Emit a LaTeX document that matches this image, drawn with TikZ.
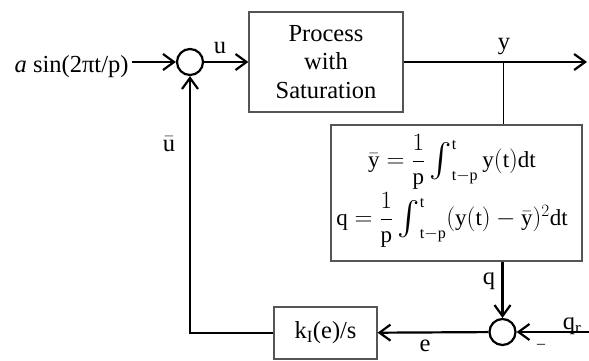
\documentclass[tikz,border=0pt]{standalone}
\usepackage{amsmath}
\usepackage{graphicx}
\usepackage{fontspec}
\setmainfont{Liberation Serif}
\usepackage{tikz}
\usetikzlibrary{
arrows.meta,
positioning,
calc
}
\definecolor{BoxGray}{HTML}{555555}
\newcommand{\bigint}{\mathop{\vcenter{\hbox{\scalebox{1.35}{$\textstyle\int$}}}}\nolimits}

\begin{document}
\begin{tikzpicture}[
    x=1pt,
    y=1pt,
    font=\fontsize{24.5}{28.3}\selectfont,
    block/.style={draw=BoxGray, line width=1.2pt, align=center, inner sep=0pt},
    sumnode/.style={circle, draw, line width=2.2pt, minimum size=26pt, inner sep=0pt},
    conn/.style={-{Straight Barb[length=11pt,width=16pt]}, line width=2.2pt}
]

% Frame of the picture
\useasboundingbox (0,0) rectangle (589,360);

% =========================
% FORWARD PATH
% =========================
\node[sumnode] (sumu) at (190,298) {};

\node[
    anchor=base east
]
(sig) at (132,288)
{\textit{a} sin(2πt/p)};

\node[
    block,
    minimum width=154pt,
    minimum height=100pt
]
(proc) at (326,298)
{Process\\with\\Saturation};

\coordinate (br) at (503.5,298);
\coordinate (yend) at (587,298);

\draw[conn] (sig.east |- sumu) -- (sumu);
\draw[conn] (sumu) -- (proc);
\draw[conn] (proc.east) -- (yend);

\node (lu) at (220,312) {u};
\node (ly) at (504,313.5) {y};

% =========================
% VARIANCE FILTER
% =========================
\node[
    block,
    minimum width=251pt,
    minimum height=136pt
]
(filt) at (456.5,167) {};

\node (eqmean) at (452,198)
{\fontsize{23}{26}\selectfont$\bar{\mathrm{y}}=\dfrac{1}{\mathrm{p}}\bigint_{\mathrm{t-p}}^{\mathrm{t}}\mathrm{y(t)dt}$};

\node[
    below=-4pt of eqmean.south
]
(eqvar)
{\fontsize{23}{26}\selectfont$\mathrm{q}=\dfrac{1}{\mathrm{p}}\bigint_{\mathrm{t-p}}^{\mathrm{t}}(\mathrm{y(t)}-\bar{\mathrm{y}})^{2}\mathrm{dt}$};

\draw[line width=1.5pt] (br) -- (br |- filt.north);

% =========================
% ERROR AND INTEGRATOR
% =========================
\node[sumnode] (sumq) at (502.5,28) {};

\node[
    block,
    minimum width=103pt,
    minimum height=52pt
]
(ki) at (325.5,27)
{k$_{\mathrm{I}}$(e)/s};

\coordinate (qin) at (589,28);

\draw[conn] (filt.south -| sumq) -- (sumq);
\draw[conn] (qin) -- (sumq);
\draw[conn] (sumq) -- (ki);
\draw[conn] (ki.west) -| (sumu);

\node (lq) at (489,78.5) {q};
\node (lqr) at (572,34) {q$_{\mathrm{r}}$};
\node[font=\fontsize{16}{16}\selectfont] (lminus) at (541,14) {\textendash};
\node (le) at (425,14) {e};
\node (lubar) at (169,216) {$\bar{\mathrm{u}}$};

\end{tikzpicture}
\end{document}
